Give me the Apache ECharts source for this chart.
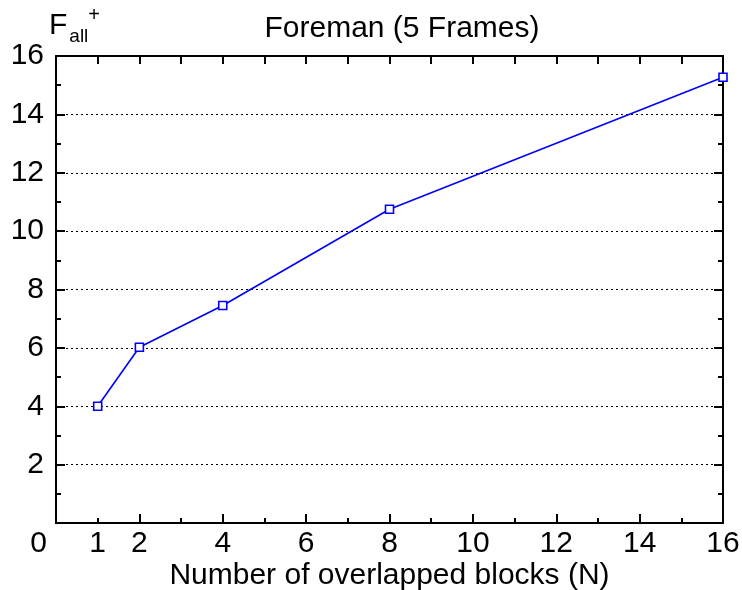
<!DOCTYPE html>
<html>
<head>
<meta charset="utf-8">
<script src="https://cdn.jsdelivr.net/npm/echarts@6/dist/echarts.min.js"></script>
<style>
  html, body { margin: 0; padding: 0; background: #fff; }
  #chart { width: 742px; height: 590px; }
</style>
</head>
<body>
<div id="chart"></div>
<script>
// Overlapped blocks N and the resulting F_all+ for Foreman (5 frames)
const blocksN = [1, 2, 4, 8, 16];
const fAllPlus = [4.0, 6.02, 7.45, 10.75, 15.27];

const xTickLabels = [0, 1, 2, 4, 6, 8, 10, 12, 14, 16];
const yTickLabels = [2, 4, 6, 8, 10, 12, 14, 16];

const FONT = '"Liberation Sans", Arial, sans-serif';
const FS = 30;
const points = blocksN.map((n, i) => [n, fAllPlus[i]]);

const chart = echarts.init(document.getElementById('chart'), null, { renderer: 'canvas' });

const axisLine = { show: true, onZero: false, lineStyle: { color: '#000', width: 2 } };

chart.setOption({
  backgroundColor: '#fff',
  animation: false,
  title: {
    text: 'Foreman (5 Frames)',
    left: 397, top: 9,
    textAlign: 'center',
    textStyle: { fontFamily: FONT, fontSize: FS, fontWeight: 'normal', color: '#000' }
  },
  graphic: [{
    type: 'text',
    left: 49, top: 5,
    style: {
      text: '{f|F}{s|all}{p|+}',
      rich: {
        f: { fontFamily: FONT, fontSize: FS, color: '#000', lineHeight: 40, verticalAlign: 'middle' },
        s: { fontFamily: FONT, fontSize: 19, color: '#000', verticalAlign: 'bottom', lineHeight: 20, padding: [0, 0, 0, 2] },
        p: { fontFamily: FONT, fontSize: 20, color: '#000', verticalAlign: 'top', padding: [-1, 0, 0, 0] }
      }
    }
  }],
  grid: { left: 56, right: 19, top: 56, bottom: 67, containLabel: false, outerBoundsMode: 'none' },
  xAxis: [
    {
      // labelled bottom axis with short ticks at every integer
      type: 'value', position: 'bottom', min: 0, max: 16, interval: 1,
      name: 'Number of overlapped blocks (N)',
      nameLocation: 'middle', nameGap: 38, nameMoveOverlap: false,
      nameTextStyle: { fontFamily: FONT, fontSize: FS, color: '#000' },
      axisLine: axisLine,
      axisTick: { show: true, inside: true, length: 5, lineStyle: { color: '#000', width: 2 } },
      axisLabel: {
        margin: 6,
        fontFamily: FONT, fontSize: FS, color: '#000',
        formatter: v => {
          if (!xTickLabels.includes(v)) return '';
          return v === 0 ? '{z|0}' : String(v);
        },
        rich: { z: { fontFamily: FONT, fontSize: FS, color: '#000', padding: [0, 35, 0, 0] } }
      },
      splitLine: { show: false }
    },
    {
      // longer ticks at the even values
      type: 'value', position: 'bottom', min: 0, max: 16, interval: 2,
      axisLine: axisLine,
      axisTick: { show: true, inside: true, length: 9, lineStyle: { color: '#000', width: 2 } },
      axisLabel: { show: false },
      splitLine: { show: false }
    },
    {
      // top frame
      type: 'value', position: 'top', min: 0, max: 16, interval: 1,
      axisLine: axisLine,
      axisTick: { show: true, inside: true, length: 8, lineStyle: { color: '#000', width: 2 } },
      axisLabel: { show: false },
      splitLine: { show: false }
    }
  ],
  yAxis: [
    {
      type: 'value', position: 'left', min: 0, max: 16, interval: 2,
      axisLine: axisLine,
      axisTick: { show: true, inside: true, length: 9, lineStyle: { color: '#000', width: 2 } },
      minorTick: { show: true, splitNumber: 2, length: 5, lineStyle: { color: '#000', width: 2 } },
      axisLabel: {
        margin: 12, fontFamily: FONT, fontSize: FS, color: '#000',
        formatter: v => (yTickLabels.includes(v) ? String(v) : '')
      },
      splitLine: { show: true, lineStyle: { color: '#000', width: 1, type: [2, 3] } }
    },
    {
      // right frame
      type: 'value', position: 'right', min: 0, max: 16, interval: 2,
      axisLine: axisLine,
      axisTick: { show: true, inside: true, length: 9, lineStyle: { color: '#000', width: 2 } },
      minorTick: { show: true, splitNumber: 2, length: 5, lineStyle: { color: '#000', width: 2 } },
      axisLabel: { show: false },
      splitLine: { show: false }
    }
  ],
  series: [{
    type: 'line',
    xAxisIndex: 0, yAxisIndex: 0,
    data: points,
    symbol: 'rect', symbolSize: 8,
    showAllSymbol: true,
    lineStyle: { color: '#0000ff', width: 1.6 },
    itemStyle: { color: '#fff', borderColor: '#0000ff', borderWidth: 1.6 },
    z: 5
  }]
});
</script>
</body>
</html>
